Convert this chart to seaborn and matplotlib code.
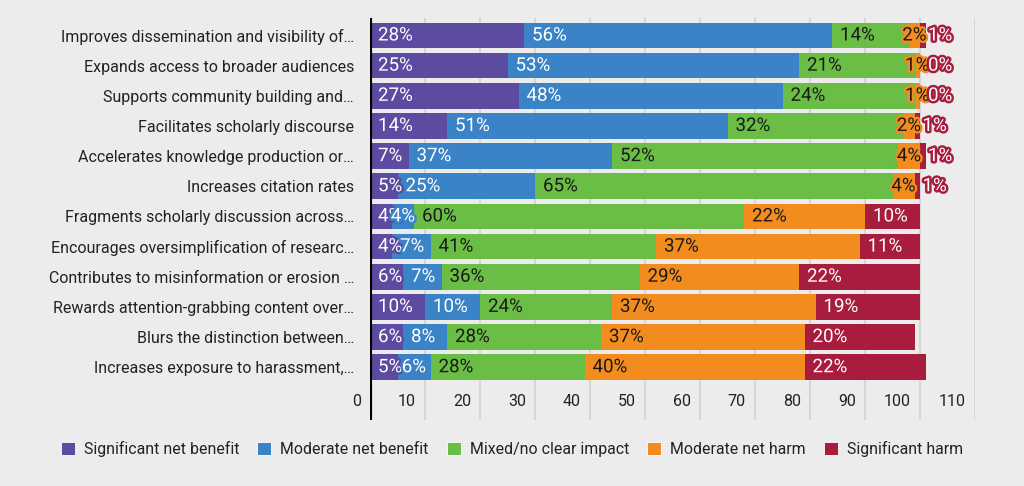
import matplotlib.pyplot as plt
import matplotlib.patheffects as pe
import matplotlib.transforms as mtransforms
from matplotlib.patches import Patch
import numpy as np
import pandas as pd
import seaborn as sns

categories = [
    "Improves dissemination and visibility of…",
    "Expands access to broader audiences",
    "Supports community building and…",
    "Facilitates scholarly discourse",
    "Accelerates knowledge production or…",
    "Increases citation rates",
    "Fragments scholarly discussion across…",
    "Encourages oversimplification of researc…",
    "Contributes to misinformation or erosion …",
    "Rewards attention-grabbing content over…",
    "Blurs the distinction between…",
    "Increases exposure to harassment,…",
]
series_names = ["Significant net benefit", "Moderate net benefit", "Mixed/no clear impact",
                "Moderate net harm", "Significant harm"]
significant_benefit = [28, 25, 27, 14, 7, 5, 4, 4, 6, 10, 6, 5]
moderate_benefit = [56, 53, 48, 51, 37, 25, 4, 7, 7, 10, 8, 6]
mixed_impact = [14, 21, 24, 32, 52, 65, 60, 41, 36, 24, 28, 28]
moderate_harm = [2, 1, 1, 2, 4, 4, 22, 37, 29, 37, 37, 40]
significant_harm = [1, 0, 0, 1, 1, 1, 10, 11, 22, 19, 20, 22]
x_ticks = list(range(0, 111, 10))

colors = ["#5c4ba0", "#3a83c6", "#6abd45", "#f28c1e", "#a81c3e"]
text_colors = ["white", "white", "#1a1a1a", "#1a1a1a", "white"]
bg = "#ececec"

sns.set_theme(style="white")
plt.rcParams["font.family"] = ["Roboto", "DejaVu Sans"]

fig = plt.figure(figsize=(10.24, 4.86), dpi=100, facecolor=bg)
ax = fig.add_axes([370 / 1024, 1 - 420 / 486, 605 / 1024, 402 / 486])
ax.set_facecolor(bg)

series = np.array([significant_benefit, moderate_benefit, mixed_impact, moderate_harm, significant_harm])
cum = np.cumsum(series, axis=0)
df = pd.DataFrame({"category": categories})

# stacked bars: draw cumulative totals from the outermost segment inwards
for i in range(4, -1, -1):
    df["total"] = cum[i]
    sns.barplot(data=df, x="total", y="category", color=colors[i], saturation=1,
                width=0.85, errorbar=None, linewidth=0, ax=ax, zorder=2)

ax.set_xlim(0, 110)
ax.set_ylim(12.75, -0.58)
ax.set_xlabel("")
ax.set_ylabel("")
for s in ax.spines.values():
    s.set_visible(False)
ax.axvline(0, color="black", lw=3, zorder=4)
ax.set_xticks(x_ticks)
ax.set_xticklabels([str(t) for t in x_ticks])
ax.grid(axis="x", color="#d6d6d6", lw=1.5, zorder=0)
ax.set_axisbelow(True)
ax.tick_params(axis="x", length=0, pad=-19, labelsize=11.5, labelcolor="#222222")
ax.tick_params(axis="y", length=0, pad=11.5, labelsize=11.5, labelcolor="#222222")
shift = mtransforms.ScaledTranslation(-9 / 100, 0, fig.dpi_scale_trans)
for lab in ax.get_xticklabels():
    lab.set_horizontalalignment("right")
    lab.set_transform(lab.get_transform() + shift)

# value labels
fig.canvas.draw()
renderer = fig.canvas.get_renderer()
px_per_unit = ax.transData.transform((1, 0))[0] - ax.transData.transform((0, 0))[0]
pad = 8
left_tr = mtransforms.offset_copy(ax.transData, fig=fig, x=pad, y=0, units="dots")
for row in range(len(categories)):
    for i in range(5):
        val = series[i][row]
        start = cum[i][row] - val
        t = ax.text(start, row, f"{val}%", transform=left_tr, ha="left", va="center",
                    fontsize=13.5, color=text_colors[i], zorder=5,
                    path_effects=[pe.withStroke(linewidth=3.5, foreground=colors[i])])
        w = t.get_window_extent(renderer).width
        if i not in (0, 4) and w + 1.5 * pad > val * px_per_unit:
            t.set_transform(ax.transData)
            t.set_x(start + val / 2)
            t.set_horizontalalignment("center")

handles = [Patch(facecolor=c, edgecolor="white", linewidth=0.6) for c in colors]
fig.legend(handles, series_names, loc="center", bbox_to_anchor=(0.5, 1 - 449 / 486), ncol=5,
           frameon=False, fontsize=11.4, handlelength=0.88, handleheight=0.88,
           handletextpad=0.57, columnspacing=1.15, labelcolor="#222222")

fig.savefig("out.png", dpi=100, facecolor=bg)
